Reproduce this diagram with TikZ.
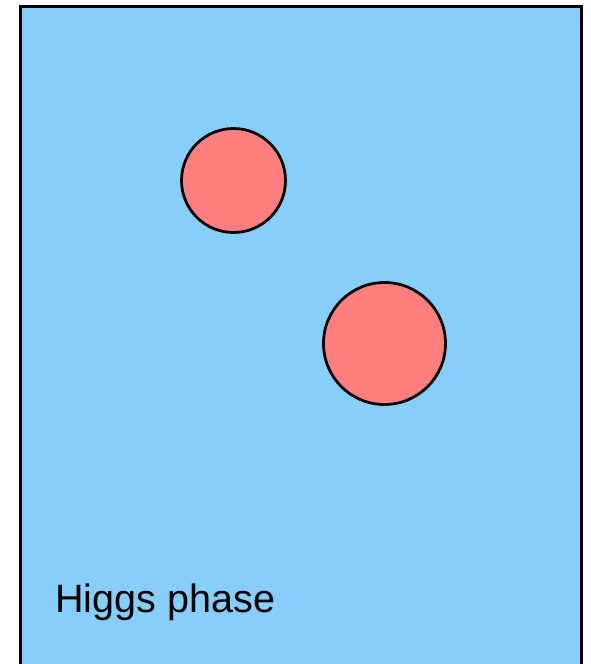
\documentclass[tikz,border=0pt]{standalone}
\usepackage{fontspec}
\setmainfont{Liberation Sans}
\usetikzlibrary{positioning}
\definecolor{higgsBlue}{HTML}{87CEFA}
\definecolor{bubbleRed}{HTML}{FF7F7F}
\tikzset{
  phaseBox/.style={
    draw=black,
    fill=higgsBlue,
    line width=0.06cm
  },
  bubble/.style={
    circle,
    draw=black,
    fill=bubbleRed,
    line width=0.055cm,
    inner sep=0pt
  },
  phaseLabel/.style={
    font=\fontsize{22.5pt}{27pt}\selectfont,
    inner sep=0pt,
    anchor=base west
  }
}
\begin{document}
\begin{tikzpicture}[x=0.02cm, y=-0.02cm]
  \useasboundingbox (0,0) rectangle (591,664);
  \clip (0,0) rectangle (591,664);
  \draw[phaseBox] (20.5,6.5) rectangle (581.5,700);
  \node[bubble, minimum size=2*52*0.02cm] (small) at (233.5,180.5) {};
  \node[bubble, minimum size=2*61*0.02cm] (large) at (384.5,343.5) {};
  \node[phaseLabel] (label) at (55,612) {Higgs phase};
\end{tikzpicture}
\end{document}
